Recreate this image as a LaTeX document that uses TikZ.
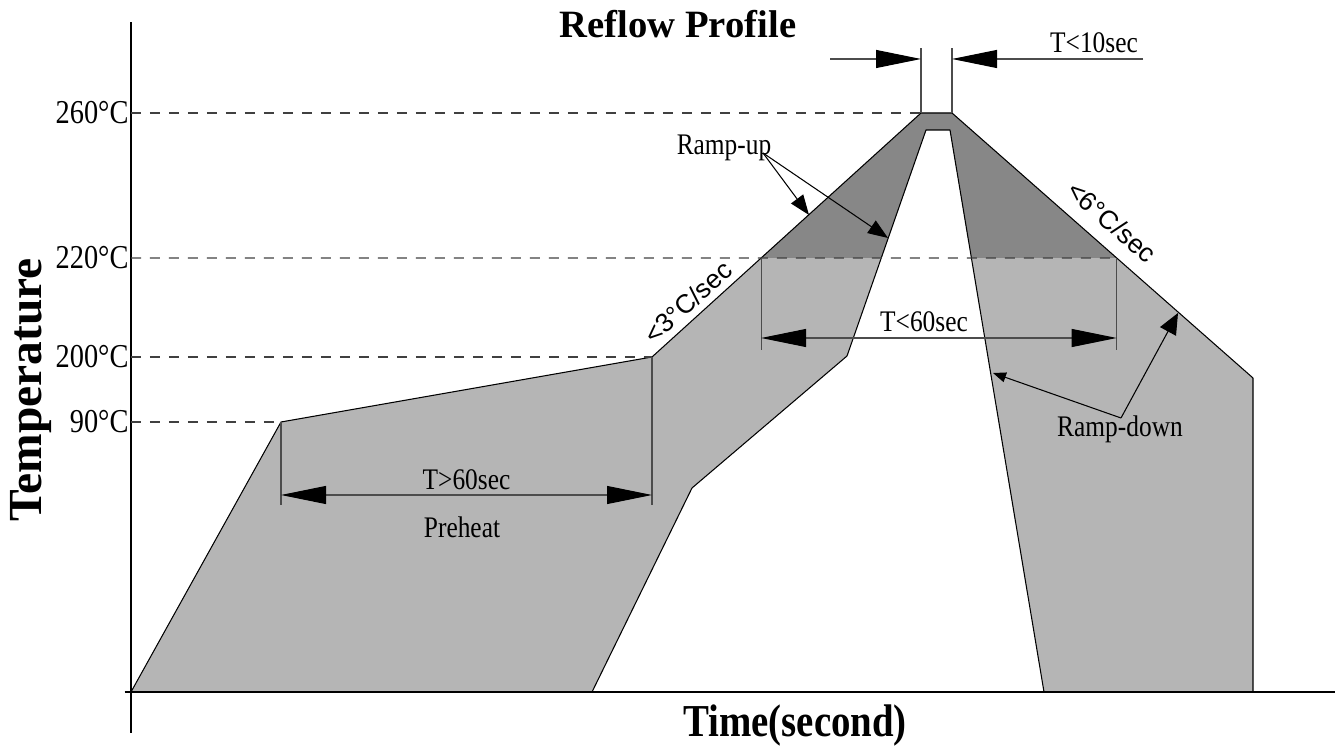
\documentclass[tikz,border=0pt]{standalone}
\usepackage{fontspec}
\setmainfont{Liberation Serif}
\newfontfamily\cond[FakeStretch=0.85]{Liberation Serif}
\newfontfamily\arialfont{Liberation Sans}
\usetikzlibrary{arrows.meta}
\definecolor{lightfill}{gray}{0.71}
\definecolor{darkfill}{gray}{0.53}
\begin{document}
\begin{tikzpicture}[line join=round, line width=0.6pt,
  >={Triangle[length=0.9cm,width=0.36cm,color=black]},
  guide/.style={dash pattern=on 0.2cm off 0.18cm, black!75},
  ext/.style={black!70},
  lbl/.style={font=\cond\fontsize{19}{20}\selectfont, inner sep=0pt},
  dimtxt/.style={font=\cond\fontsize{17}{18}\selectfont},
  rate/.style={font=\arialfont\fontsize{15}{16}\selectfont},
  tipsmall/.style={-{Triangle[length=0.4cm,width=0.3cm]}}]
\useasboundingbox (-2.62,-1.14) rectangle (24.22,13.84);
\coordinate (A) at (0,0);
\coordinate (B) at (3.00,5.40);
\coordinate (C) at (10.42,6.70);
\coordinate (D) at (15.80,11.58);
\coordinate (E) at (16.42,11.58);
\coordinate (F) at (22.44,6.28);
\coordinate (G) at (22.44,0);
\coordinate (H) at (18.26,0);
\coordinate (I) at (16.38,11.24);
\coordinate (J) at (15.90,11.24);
\coordinate (K) at (14.32,6.72);
\coordinate (L) at (11.22,4.08);
\coordinate (M) at (9.22,0);
\coordinate (h0) at (0,8.68);
\coordinate (h1) at (24,8.68);
\coordinate (P1) at (intersection of C--D and h0--h1);
\coordinate (P2) at (intersection of E--F and h0--h1);
\fill[lightfill] (A)--(B)--(C)--(D)--(E)--(F)--(G)--(H)--(I)--(J)--(K)--(L)--(M)--cycle;
\begin{scope}
\clip (0,8.68) rectangle (24,12);
\fill[darkfill] (A)--(B)--(C)--(D)--(E)--(F)--(G)--(H)--(I)--(J)--(K)--(L)--(M)--cycle;
\end{scope}
\draw (A)--(B)--(C)--(D)--(E)--(F)--(G);
\draw (H)--(I)--(J)--(K)--(L)--(M);
\draw (0,-0.82)--(0,13.4);
\draw (-0.13,0)--(24.08,0);
\foreach \t/\y/\p in {260/11.58/D, 220/8.68/P2, 200/6.70/C, 90/5.40/B}{
  \node[lbl, anchor=east] (t\t) at (-0.04,\y) {\t°C};
  \draw[guide] (0,\y)--(\p);
}
\draw[ext] (B)--(3.00,3.74);
\draw[ext] (C)--(10.42,3.74);
\draw[ext] (P1)--(P1 |- 0,6.84);
\draw[ext] (P2)--(P2 |- 0,6.84);
\draw[ext] (D)--(15.80,12.88);
\draw[ext] (E)--(16.42,12.88);
\coordinate (s1) at (3.00,3.94);
\coordinate (s2) at (10.42,3.94);
\coordinate (m1) at (P1 |- 0,7.08);
\coordinate (m2) at (P2 |- 0,7.08);
\coordinate (k1) at (13.98,12.66);
\coordinate (k2) at (15.80,12.66);
\coordinate (k3) at (16.42,12.66);
\coordinate (k4) at (20.24,12.66);
\draw[ext, <->] (s1)--(s2);
\draw[ext, <->] (m1)--(m2);
\draw[ext, ->] (k1)--(k2);
\draw[ext, ->] (k4)--(k3);
\node[dimtxt, anchor=base] (soak) at (6.71,4.04) {T>60sec};
\node[dimtxt, anchor=base] (pre) at (6.62,3.08) {Preheat};
\node[dimtxt, anchor=base] (liq) at (15.86,7.20) {T<60sec};
\node[dimtxt, anchor=base] (peak) at (19.26,12.78) {T<10sec};
\node[dimtxt, anchor=base] (up) at (11.86,10.74) {Ramp-up};
\node[dimtxt, anchor=base] (down) at (19.78,5.10) {Ramp-down};
\coordinate (upfoot) at (12.64,10.78);
\coordinate (u1) at (13.56,9.54);
\coordinate (u2) at (15.14,9.08);
\draw[tipsmall] (upfoot)--(u1);
\draw[tipsmall] (upfoot)--(u2);
\coordinate (dnknee) at (19.80,5.48);
\coordinate (d1) at (17.24,6.38);
\coordinate (d2) at (20.94,7.58);
\draw[-{Triangle[length=0.26cm,width=0.2cm]}] (dnknee)--(d1);
\draw[-{Triangle[length=0.42cm,width=0.36cm]}] (dnknee)--(d2);
\node[rate, rotate=42] (r3) at (11.14,7.80) {<3°C/sec};
\node[rate, rotate=-41.3] (r6) at (19.62,9.40) {<6°C/sec};
\node[font=\bfseries\fontsize{22}{24}\selectfont, anchor=base] (title) at (10.94,13.08) {Reflow Profile};
\node[font=\cond\bfseries\fontsize{26}{28}\selectfont, anchor=base] (xlab) at (13.28,-0.90) {Time(second)};
\node[font=\bfseries\fontsize{27}{28}\selectfont, rotate=90, anchor=base] (ylab) at (-1.78,6.04) {Temperature};
\end{tikzpicture}
\end{document}
